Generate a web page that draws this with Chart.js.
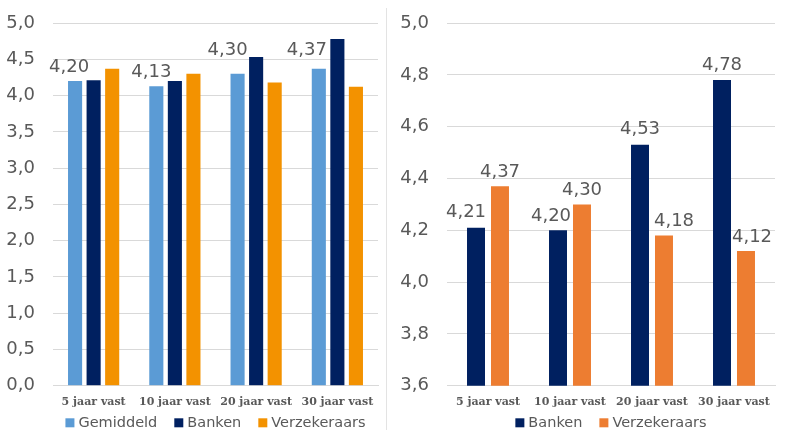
<!DOCTYPE html>
<html>
<head>
<meta charset="utf-8">
<script src="https://cdn.jsdelivr.net/npm/chart.js@4.4.1/dist/chart.umd.min.js"></script>
<style>
  html, body { margin: 0; padding: 0; background: #fff; }
  #wrap { position: relative; width: 797px; height: 437px; }
  #left { position: absolute; left: 0; top: 0; width: 386px; height: 437px; }
  #right { position: absolute; left: 388px; top: 0; width: 409px; height: 437px; }
  #divider { position: absolute; left: 386px; top: 8px; width: 1px; height: 422px; background: #e3e3e3; }
</style>
</head>
<body>
<div id="wrap">
  <div id="left"><canvas id="leftChart"></canvas></div>
  <div id="divider"></div>
  <div id="right"><canvas id="rightChart"></canvas></div>
</div>
<script>
var categories = ['5 jaar vast', '10 jaar vast', '20 jaar vast', '30 jaar vast'];
var gemiddeld = [4.20, 4.13, 4.30, 4.37];
var banken = [4.21, 4.20, 4.53, 4.78];
var verzekeraars = [4.37, 4.30, 4.18, 4.12];
var leftTicks = { min: 0, max: 5, step: 0.5 };
var rightTicks = { min: 3.6, max: 5, step: 0.2 };

var textColor = '#595959';
var gridColor = '#d9d9d9';

function comma(v, d) {
    return v.toFixed(d).replace('.', ',');
}

// value labels above the bars of datasets that ask for it
var valueLabels = {
    id: 'valueLabels',
    afterDatasetsDraw: function(chart) {
        var ctx = chart.ctx;
        ctx.save();
        ctx.font = '18px "DejaVu Sans"';
        ctx.fillStyle = textColor;
        ctx.textAlign = 'center';
        ctx.textBaseline = 'middle';
        chart.data.datasets.forEach(function(ds, i) {
            if (!ds.showLabels) return;
            chart.getDatasetMeta(i).data.forEach(function(bar, j) {
                var shift = ds.labelShift ? ds.labelShift[j] : [0, 15];
                ctx.fillText(comma(ds.data[j], 2), bar.x + shift[0], bar.y - shift[1]);
            });
        });
        ctx.restore();
    }
};

// excel-like legend under the axis labels, centred on the plot area
var bottomLegend = {
    id: 'bottomLegend',
    afterDraw: function(chart) {
        var ctx = chart.ctx;
        var area = chart.chartArea;
        var box = 9, gap = 4, spacing = 17;
        ctx.save();
        ctx.font = '14.5px "DejaVu Sans"';
        ctx.textBaseline = 'middle';
        var items = chart.data.datasets.map(function(ds) {
            return { text: ds.label, color: ds.backgroundColor, w: ctx.measureText(ds.label).width };
        });
        var total = items.reduce(function(s, it) { return s + box + gap + it.w; }, 0) + spacing * (items.length - 1);
        var x = (area.left + area.right) / 2 - total / 2;
        var y = area.bottom + 37;
        items.forEach(function(it) {
            ctx.fillStyle = it.color;
            ctx.fillRect(x, y - box / 2, box, box);
            ctx.fillStyle = textColor;
            ctx.fillText(it.text, x + box + gap, y);
            x += box + gap + it.w + spacing;
        });
        ctx.restore();
    }
};

function makeOptions(range, yWidth, pad) {
    return {
        responsive: true,
        maintainAspectRatio: false,
        animation: false,
        layout: { padding: pad },
        plugins: {
            tooltip: { enabled: false },
            legend: { display: false }
        },
        scales: {
            x: {
                grid: { display: false, drawTicks: false },
                border: { color: gridColor },
                ticks: {
                    color: textColor,
                    padding: 10,
                    maxRotation: 0,
                    autoSkip: false,
                    font: { family: '"DejaVu Serif"', size: 11, weight: 'bold' }
                }
            },
            y: {
                min: range.min,
                max: range.max,
                afterFit: function(scale) {
                    scale.width = yWidth;
                    scale.paddingTop = 0;
                    scale.paddingBottom = 0;
                },
                grid: { color: gridColor, drawTicks: false },
                border: { display: false },
                ticks: {
                    stepSize: range.step,
                    padding: 18,
                    color: textColor,
                    font: { family: '"DejaVu Sans"', size: 18 },
                    callback: function(v) { return comma(v, 1); }
                }
            }
        }
    };
}

new Chart(document.getElementById('leftChart'), {
    type: 'bar',
    data: {
        labels: categories,
        datasets: [{
            label: 'Gemiddeld',
            data: gemiddeld,
            backgroundColor: '#5B9BD5',
            categoryPercentage: 0.685,
            barPercentage: 0.76,
            showLabels: true,
            labelShift: [[-6, 14], [-5, 14], [-10, 23], [-12, 18]]
        }, {
            label: 'Banken',
            data: banken,
            backgroundColor: '#002060',
            categoryPercentage: 0.685,
            barPercentage: 0.76
        }, {
            label: 'Verzekeraars',
            data: verzekeraars,
            backgroundColor: '#F39200',
            categoryPercentage: 0.685,
            barPercentage: 0.76
        }]
    },
    options: makeOptions(leftTicks, 53, { top: 23, right: 8, bottom: 18, left: 0 }),
    plugins: [valueLabels, bottomLegend]
});

new Chart(document.getElementById('rightChart'), {
    type: 'bar',
    data: {
        labels: categories,
        datasets: [{
            label: 'Banken',
            data: banken,
            backgroundColor: '#002060',
            categoryPercentage: 0.585,
            barPercentage: 0.75,
            showLabels: true,
            labelShift: [[-10, 15], [-7, 14], [0, 15], [0, 15]]
        }, {
            label: 'Verzekeraars',
            data: verzekeraars,
            backgroundColor: '#ED7D31',
            categoryPercentage: 0.585,
            barPercentage: 0.75,
            showLabels: true,
            labelShift: [[0, 14], [0, 14], [10, 14], [6, 14]]
        }]
    },
    options: makeOptions(rightTicks, 59, { top: 23, right: 22, bottom: 18, left: 0 }),
    plugins: [valueLabels, bottomLegend]
});
</script>
</body>
</html>
